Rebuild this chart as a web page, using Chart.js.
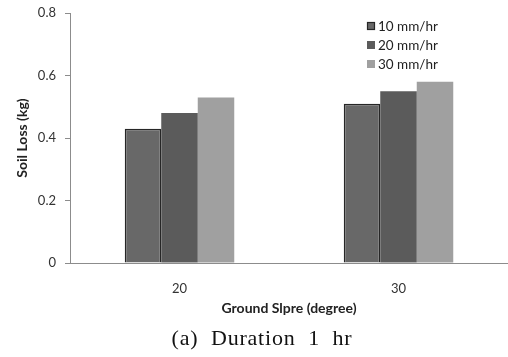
<!DOCTYPE html>
<html>
<head>
<meta charset="utf-8">
<script src="https://cdn.jsdelivr.net/npm/chart.js@4/dist/chart.umd.min.js"></script>
<style>
html,body{margin:0;padding:0;background:#fff;}
#wrap{width:508px;height:357px;position:relative;}
</style>
</head>
<body>
<div id="wrap"><canvas id="c" width="508" height="357"></canvas></div>
<script>
const categories = ['20', '30'];
const seriesLabels = ['10 mm/hr', '20 mm/hr', '30 mm/hr'];
const rain10 = [0.43, 0.51];
const rain20 = [0.48, 0.55];
const rain30 = [0.53, 0.58];
const yTicks = [0, 0.2, 0.4, 0.6, 0.8];
const yTitle = 'Soil Loss (kg)';
const xTitle = 'Ground Slpre (degree)';
const caption = '(a)  Duration  1  hr';

const fills = ['#686868', '#5b5b5b', '#a0a0a0'];
const borders = ['#262626', '#5b5b5b', '#a0a0a0'];
const borderWidths = [1.6, 0, 0];

const legendPlugin = {
  id: 'insideLegend',
  afterDraw(chart) {
    const ctx = chart.ctx;
    ctx.save();
    ctx.font = '13.5px Lato';
    ctx.textBaseline = 'middle';
    ctx.textAlign = 'left';
    chart.data.datasets.forEach((ds, i) => {
      const y = 26 + i * 19;
      const x = 367;
      ctx.fillStyle = ds.backgroundColor;
      ctx.fillRect(x, y - 4, 8, 8);
      if (ds.borderWidth > 0) {
        ctx.strokeStyle = ds.borderColor;
        ctx.lineWidth = 1.2;
        ctx.strokeRect(x + 0.5, y - 3.5, 7, 7);
      }
      ctx.fillStyle = '#222';
      ctx.fillText(ds.label, 378, y + 0.5);
    });
    ctx.restore();
  }
};

const captionPlugin = {
  id: 'caption',
  afterDraw(chart) {
    const ctx = chart.ctx;
    ctx.save();
    ctx.font = '22px "Liberation Serif"';
    ctx.fillStyle = '#111';
    ctx.textAlign = 'center';
    ctx.textBaseline = 'middle';
    try { ctx.letterSpacing = '0.8px'; } catch (e) {}
    ctx.fillText(caption, 262, 339);
    ctx.restore();
  }
};

const datasets = [rain10, rain20, rain30].map((d, i) => ({
  label: seriesLabels[i],
  data: d,
  backgroundColor: fills[i],
  borderColor: borders[i],
  borderWidth: borderWidths[i],
  categoryPercentage: 0.5,
  barPercentage: 1.0
}));

new Chart(document.getElementById('c'), {
  type: 'bar',
  data: { labels: categories, datasets },
  plugins: [legendPlugin, captionPlugin],
  options: {
    responsive: false,
    animation: false,
    devicePixelRatio: 1,
    layout: { padding: { top: 13, right: 0, left: 0, bottom: 40 } },
    plugins: {
      legend: { display: false },
      title: { display: false },
      tooltip: { enabled: false }
    },
    scales: {
      x: {
        afterFit: (s) => { s.height = 54; s.paddingLeft = 0; s.paddingRight = 0; },
        grid: { display: false },
        border: { display: true, color: '#8c8c8c', width: 1 },
        ticks: { font: { family: 'Lato', size: 13 }, color: '#333', padding: 10 },
        title: {
          display: true, text: xTitle, color: '#222',
          font: { family: 'Lato', size: 14, weight: 'bold' },
          padding: { top: 5, bottom: 0 }
        }
      },
      y: {
        min: 0, max: 0.8,
        afterBuildTicks: (s) => { s.ticks = yTicks.map(v => ({ value: v })); },
        afterFit: (s) => { s.width = 70; s.paddingTop = 0; s.paddingBottom = 0; },
        grid: { display: true, drawOnChartArea: false, drawTicks: true, tickLength: 5, color: '#8c8c8c' },
        border: { display: true, color: '#8c8c8c', width: 1 },
        ticks: { font: { family: 'Lato', size: 13 }, color: '#333', padding: 9 },
        title: {
          display: true, text: yTitle, color: '#222',
          font: { family: 'Lato', size: 14, weight: 'bold' },
          padding: { top: 14, bottom: 0 }
        }
      }
    }
  }
});
</script>
</body>
</html>
